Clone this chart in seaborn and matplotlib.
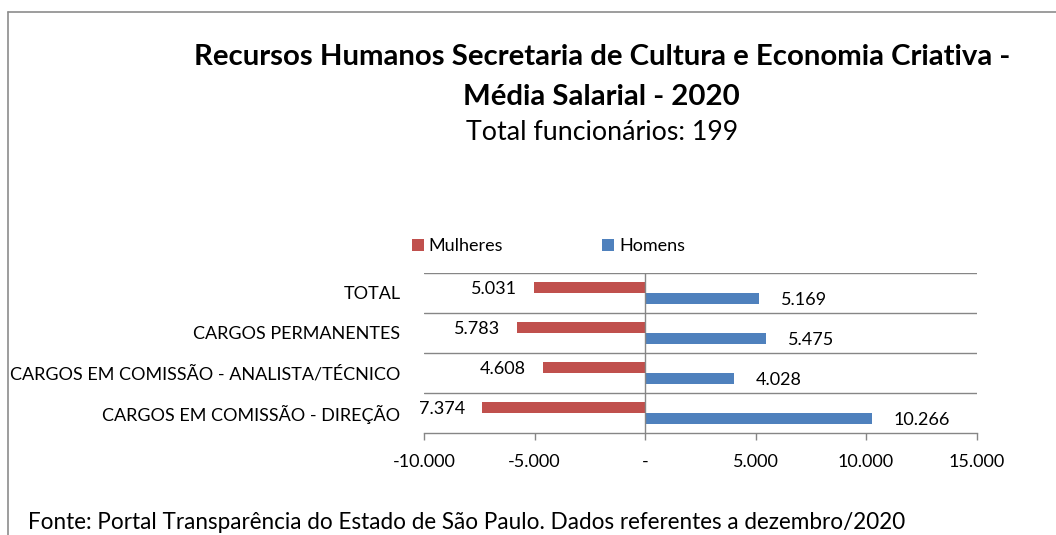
import matplotlib
matplotlib.use("Agg")
import matplotlib.pyplot as plt
from matplotlib.lines import Line2D
from matplotlib.patches import Patch
import seaborn as sns
import pandas as pd

# ---------------- data ----------------
categorias = ["TOTAL", "CARGOS PERMANENTES",
              "CARGOS EM COMISSÃO - ANALISTA/TÉCNICO",
              "CARGOS EM COMISSÃO - DIREÇÃO"]
mulheres = [5031, 5783, 4608, 7374]
homens = [5169, 5475, 4028, 10266]
series = ["Mulheres", "Homens"]
cores = ["#C0504D", "#4F81BD"]
xticks = [-10000, -5000, 0, 5000, 10000, 15000]
xtick_labels = ["-10.000", "-5.000", "-", "5.000", "10.000", "15.000"]
titulo1 = "Recursos Humanos Secretaria de Cultura e Economia Criativa -"
titulo2 = "Média Salarial - 2020"
subtitulo = "Total funcionários: 199"
fonte = "Fonte: Portal Transparência do Estado de São Paulo. Dados referentes a dezembro/2020"

df = pd.DataFrame({
    "categoria": categorias * 2,
    "sexo": [series[0]] * len(mulheres) + [series[1]] * len(homens),
    "valor": [-v for v in mulheres] + homens,
})

sns.set_theme(style="white")
plt.rcParams["font.family"] = ["Lato", "DejaVu Sans"]
plt.rcParams["text.color"] = "black"

W, H = 1056, 535
fig = plt.figure(figsize=(W / 100, H / 100), dpi=100)
renderer = fig.canvas.get_renderer()


def fit_size(text, target_px, weight="normal", ref=20.0):
    t = fig.text(0, 0, text, fontsize=ref, fontweight=weight)
    w = t.get_window_extent(renderer=renderer).width
    t.remove()
    return ref * target_px / w


F = fit_size(categorias[2], 390)           # regular text size (pt)
F_px = F * 100 / 72
FT = fit_size(titulo1, 820, weight="bold")
FS = fit_size(subtitulo, 272)
FF = fit_size(fonte, 878)

# axes placement (pixels)
x0, x1, ytop, ybot = 424, 976.5, 272.7, 432.7
ax = fig.add_axes([x0 / W, 1 - ybot / H, (x1 - x0) / W, (ybot - ytop) / H])

sns.barplot(data=df, y="categoria", x="valor", hue="sexo", hue_order=series,
            order=categorias, palette=cores, orient="h", width=0.55,
            saturation=1, errorbar=None, linewidth=0, legend=False, ax=ax)

ax.set_xlim(-10000, 15000)
ax.set_ylim(len(categorias) - 0.5, -0.5)
ax.set_xticks(xticks)
ax.set_xticklabels(xtick_labels, fontsize=F)
ax.set_xlabel("")
ax.set_ylabel("")
ax.tick_params(axis="x", direction="out", length=5, width=1, color="#868686",
               pad=10.5, labelcolor="black", bottom=True)
ax.tick_params(axis="y", length=0, pad=17, labelsize=F, labelcolor="black")

grid_c = "#868686"
for s in ["top", "right", "left"]:
    ax.spines[s].set_visible(False)
ax.spines["bottom"].set_color(grid_c)
ax.spines["bottom"].set_linewidth(1)
for k in range(len(categorias)):
    ax.axhline(k - 0.5, color=grid_c, lw=1, zorder=0)
ax.axvline(0, color=grid_c, lw=1, zorder=3)

# data labels
for cont, vals in zip(ax.containers, [mulheres, homens]):
    for patch, v in zip(cont.patches, vals):
        xe = patch.get_x() + patch.get_width()
        yc = patch.get_y() + patch.get_height() / 2
        lab = f"{v:,}".replace(",", ".")
        if xe < 0:
            ax.annotate(lab, (xe, yc), xytext=(-12.2, -1.4), textcoords="offset points",
                        ha="right", va="center", fontsize=F)
        else:
            ax.annotate(lab, (xe, yc), xytext=(15.8, -1.4), textcoords="offset points",
                        ha="left", va="center", fontsize=F)

# legend
handles = [Patch(facecolor=c, edgecolor="none") for c in cores]
fig.legend(handles, series, loc="center left",
           bbox_to_anchor=(411.7 / W, 1 - 246 / H), ncol=2, frameon=False,
           fontsize=F, borderpad=0, borderaxespad=0,
           handlelength=12 / F_px, handleheight=12 / F_px,
           handletextpad=5 / F_px, columnspacing=99 / F_px)

# titles
cx = 601.7 / W
fig.text(cx, 1 - 65 / H, titulo1, ha="center", va="baseline", fontsize=FT, fontweight="bold")
fig.text(cx, 1 - 105 / H, titulo2, ha="center", va="baseline", fontsize=FT, fontweight="bold")
fig.text(cx, 1 - 140 / H, subtitulo, ha="center", va="baseline", fontsize=FS)

# footer at the bottom edge
fig.text(28 / W, 1 - 529 / H, fonte, ha="left", va="baseline", fontsize=FF)

# chart area border
bc = "#8C8C8C"
fig.add_artist(Line2D([8 / W, 1.0], [1 - 12 / H, 1 - 12 / H], transform=fig.transFigure,
                      color=bc, lw=1.2))
fig.add_artist(Line2D([8 / W, 8 / W], [0, 1 - 12 / H], transform=fig.transFigure,
                      color=bc, lw=1.2))

fig.savefig("out.png", dpi=100, facecolor="white")
